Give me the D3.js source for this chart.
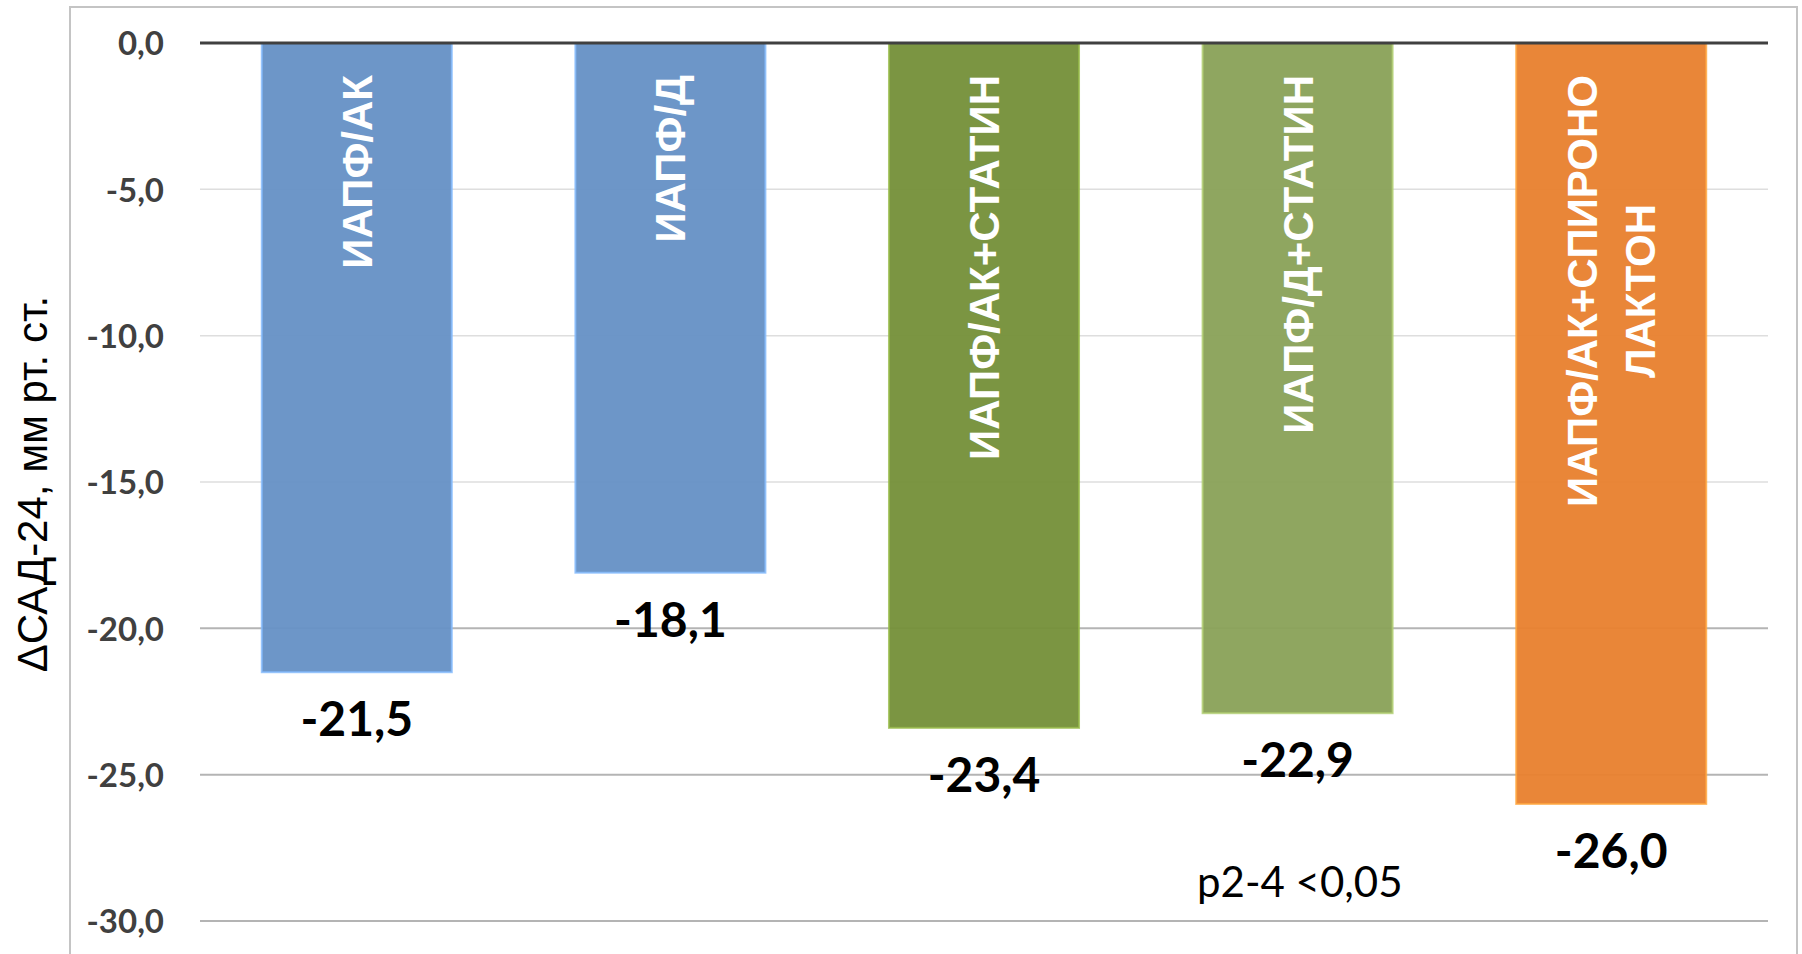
<!DOCTYPE html>
<html>
<head>
<meta charset="utf-8">
<script src="https://cdn.jsdelivr.net/npm/d3@7"></script>
<style>
  html, body { margin: 0; padding: 0; background: #ffffff; }
  svg { display: block; }
</style>
</head>
<body>
<svg id="chart" width="1802" height="954"></svg>
<script>
// Change in 24-hour systolic BP by treatment group
const categories = ["ИАПФ/АК", "ИАПФ/Д", "ИАПФ/АК+СТАТИН", "ИАПФ/Д+СТАТИН", "ИАПФ/АК+СПИРОНО\nЛАКТОН"];
const values = [-21.5, -18.1, -23.4, -22.9, -26.0];
const barColors = ["#6792c6", "#6792c6", "#76913a", "#8aa259", "#e88130"];
const yTicks = [0, -5, -10, -15, -20, -25, -30];
const yTitle = "ΔСАД-24, мм рт. ст.";
const note = "p2-4 <0,05";

const svg = d3.select("#chart");
const plot = { left: 200, right: 1768, top: 43, bottom: 921 };

const ruLocale = d3.formatLocale({ decimal: ",", thousands: " ", grouping: [3], currency: ["", ""], minus: "-" });
const fmt = ruLocale.format(".1f");

const x = d3.scaleBand()
  .domain(categories)
  .range([plot.left, plot.right])
  .paddingInner(0.394)
  .paddingOuter(0.197);

const y = d3.scaleLinear()
  .domain([-30, 0])
  .range([plot.bottom, plot.top]);

// outer chart frame
svg.append("rect")
  .attr("x", 70).attr("y", 7)
  .attr("width", 1727).attr("height", 980)
  .attr("fill", "none")
  .attr("stroke", "#c4c4c4")
  .attr("stroke-width", 2);

// horizontal gridlines
svg.append("g")
  .selectAll("line")
  .data(yTicks.filter(d => d !== 0))
  .join("line")
  .attr("x1", plot.left).attr("x2", plot.right)
  .attr("y1", d => y(d)).attr("y2", d => y(d))
  .attr("stroke", d => d <= -20 ? "#b4b4b4" : "#dedede")
  .attr("stroke-width", d => d <= -20 ? 2 : 1.5);

// y axis tick labels
const yAxis = d3.axisLeft(y)
  .tickValues(yTicks)
  .tickFormat(fmt)
  .tickSize(0)
  .tickPadding(36);

const yg = svg.append("g")
  .attr("transform", `translate(${plot.left},0)`)
  .call(yAxis);
yg.select(".domain").remove();
yg.selectAll("text")
  .attr("font-family", "Lato, 'Open Sans', sans-serif")
  .attr("font-weight", 700)
  .attr("font-size", 33)
  .attr("fill", "#404040")
  .attr("dy", "0.36em");

// bars
svg.append("g")
  .selectAll("rect")
  .data(values)
  .join("rect")
  .attr("x", (d, i) => x(categories[i]))
  .attr("width", x.bandwidth())
  .attr("y", d => y(Math.max(0, d)))
  .attr("height", d => Math.abs(y(d) - y(0)))
  .attr("fill", (d, i) => barColors[i])
  .attr("fill-opacity", 0.96)
  .attr("stroke", (d, i) => d3.color(barColors[i]).brighter(0.7))
  .attr("stroke-opacity", 0.8)
  .attr("stroke-width", 2);

// zero baseline
svg.append("line")
  .attr("x1", plot.left).attr("x2", plot.right)
  .attr("y1", y(0)).attr("y2", y(0))
  .attr("stroke", "#404040")
  .attr("stroke-width", 3);

// rotated category names inside the bars
const labelTop = y(0) + 32;
const lineGap = 58;
const capHalf = 15;
categories.forEach((name, i) => {
  const lines = name.split("\n");
  const cx = x(name) + x.bandwidth() / 2;
  const g = svg.append("g");
  const texts = lines.map((ln, j) => g.append("text")
    .text(ln)
    .attr("font-family", "'Liberation Sans', Arial, sans-serif")
    .attr("font-weight", 700)
    .attr("font-size", 42)
    .attr("fill", "#ffffff")
    .attr("text-anchor", "middle"));
  const maxLen = d3.max(texts, t => t.node().getComputedTextLength());
  const midY = labelTop + maxLen / 2;
  texts.forEach((t, j) => {
    const off = (j - (lines.length - 1) / 2) * lineGap;
    const bx = cx + off + capHalf;
    t.attr("transform", `translate(${bx},${midY}) rotate(-90)`);
  });
});

// value labels below the bars
svg.append("g")
  .selectAll("text")
  .data(values)
  .join("text")
  .attr("x", (d, i) => x(categories[i]) + x.bandwidth() / 2)
  .attr("y", d => y(d) + 64)
  .attr("text-anchor", "middle")
  .attr("font-family", "Lato, 'Open Sans', sans-serif")
  .attr("font-weight", 700)
  .attr("font-size", 48)
  .attr("fill", "#000000")
  .text(d => fmt(d));

// y axis title
svg.append("text")
  .attr("transform", `translate(47,484) rotate(-90)`)
  .attr("text-anchor", "middle")
  .attr("font-family", "'Liberation Sans', Arial, sans-serif")
  .attr("font-size", 42)
  .attr("fill", "#000000")
  .text(yTitle);

// significance note
svg.append("text")
  .attr("x", 1197)
  .attr("y", 897)
  .attr("font-family", "Lato, 'Open Sans', sans-serif")
  .attr("font-size", 42)
  .attr("fill", "#000000")
  .text(note);
</script>
</body>
</html>
